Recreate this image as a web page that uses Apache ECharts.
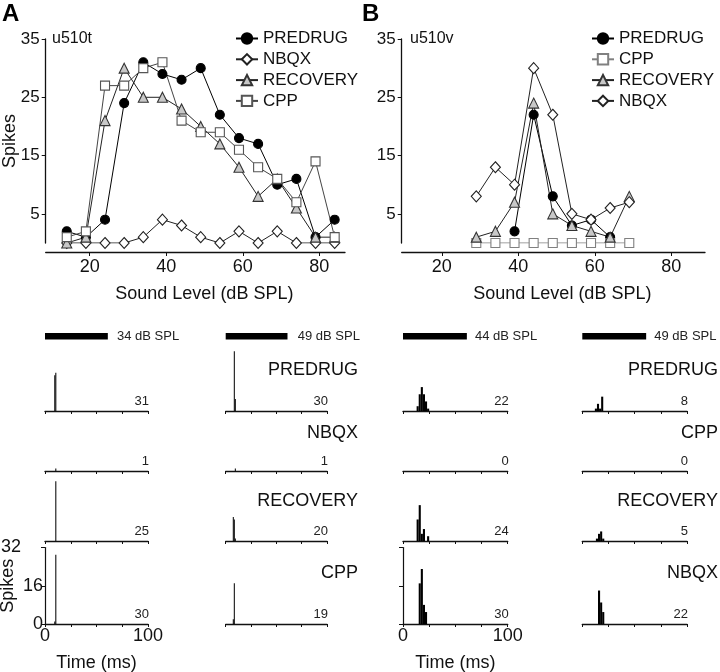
<!DOCTYPE html>
<html><head><meta charset="utf-8">
<script src="https://cdn.jsdelivr.net/npm/echarts@6/dist/echarts.min.js"></script>
<style>html,body{margin:0;padding:0;background:#fff}#c{width:720px;height:672px}</style>
</head><body><div id="c"></div>
<script>
// ---------- DATA ----------
const levelsA = [14,19,24,29,34,39,44,49,54,59,64,69,74,79,84];
const predrugA = [2,1,4,24,31,29,28,30,22,18,17,10,11,1,4];
const nbqxA = [0,0,0,0,1,4,3,1,0,2,0,2,0,0,0];
const recoveryA = [0,1,21,30,25,25,23,20,17,13,8,11,6,1,1];
const cppA = [1,2,27,27,30,31,21,19,19,16,13,11,7,14,1];

const levelsB = [29,34,39,44,49,54,59,64,69];
const predrugB = [null,null,2,22,8,3,4,1,null];
const cppB = [0,0,0,0,0,0,0,0,0];
const recoveryB = [1,2,7,24,5,3,2,1,8];
const nbqxB = [8,13,10,30,22,5,4,6,7];

const levelTicks = [20,40,60,80];
const spikeTicksTop = [5,15,25,35];

// PSTH bins: [bin start (ms), spikes]
const binWidthsMs = [1,1,2,2];
const psthA34Predrug = [[9,15],[10,16]];
const psthA34Nbqx = [[10,1]];
const psthA34Recovery = [[10,25]];
const psthA34Cpp = [[9,1],[10,29]];
const psthA49Predrug = [[8,25],[9,5]];
const psthA49Nbqx = [[9,1]];
const psthA49Recovery = [[7,10],[8,9],[9,1]];
const psthA49Cpp = [[7,2],[8,17]];
const psthB44Predrug = [[13,2],[15,7],[17,10],[19,7],[21,4],[23,1]];
const psthB44Cpp = [];
const psthB44Recovery = [[13,9],[15,15],[17,3],[19,5],[23,2]];
const psthB44Nbqx = [[15,17],[17,23],[19,8],[21,5]];
const psthB49Predrug = [[12,1],[14,3],[16,1],[18,6]];
const psthB49Cpp = [];
const psthB49Recovery = [[13,1],[15,3],[17,4],[19,1]];
const psthB49Nbqx = [[15,14],[17,9],[19,5]];

const stimulusMs = [0, 61];
const stimLabels = ['34 dB SPL','49 dB SPL','44 dB SPL','49 dB SPL'];
const countsA34 = [31,1,25,30];
const countsA49 = [30,1,20,19];
const countsB44 = [22,0,24,30];
const countsB49 = [8,0,5,22];
const rowLabelsA = ['PREDRUG','NBQX','RECOVERY','CPP'];
const rowLabelsB = ['PREDRUG','CPP','RECOVERY','NBQX'];

// ---------- LAYOUT ----------
const FONT = '"Liberation Sans", Arial, Helvetica, sans-serif';
const INK = '#111';
const grids = [], xAxes = [], yAxes = [], series = [], texts = [];

function txt(s, x, y, size, align, opts) {
  opts = opts || {};
  texts.push({type:'text', x:x, y:y, rotation:opts.rotation||0, silent:true, style:{
    text:String(s), fontSize:size, fontFamily:FONT, fontWeight:opts.bold?'bold':'normal',
    fill:opts.color||INK, align:align, textAlign:align, verticalAlign:'middle', textVerticalAlign:'middle'}});
}

function addGrid(g) {
  g.outerBoundsMode = 'none';
  g.containLabel = false;
  grids.push(g);
  return grids.length - 1;
}

function lineSeries(name, xs, ys, gi, sty) {
  series.push({
    name:name, type:'line', xAxisIndex:gi, yAxisIndex:gi,
    data: xs.map((x,i)=>[x, ys[i]]),
    symbol: sty.symbol, symbolSize: sty.size, showSymbol:true,
    lineStyle:{color:sty.line, width:1},
    itemStyle:{color:sty.fill, borderColor:sty.border, borderWidth:1.1},
    emphasis:{disabled:true}, animation:false
  });
}

function topChart(left, width, xmin, xmax, withName) {
  const gi = addGrid({left:left, top:39, width:width, height:204});
  xAxes.push({gridIndex:gi, type:'value', min:xmin, max:xmax, offset:9,
    axisLine:{show:true, onZero:false, lineStyle:{color:INK, width:1.3}},
    axisTick:{show:true, customValues:levelTicks, length:4, lineStyle:{color:INK}},
    axisLabel:{show:true, customValues:levelTicks, fontSize:18, color:INK, fontFamily:FONT, margin:6},
    splitLine:{show:false}, nameMoveOverlap:false,
    name:'Sound Level (dB SPL)', nameLocation:'middle', nameGap:33,
    nameTextStyle:{fontSize:18, color:INK, fontFamily:FONT, padding:[0,0,0,18]}});
  yAxes.push({gridIndex:gi, type:'value', min:0, max:35,
    axisLine:{show:true, lineStyle:{color:INK, width:1.3}},
    axisTick:{show:true, customValues:spikeTicksTop, length:4, lineStyle:{color:INK}},
    axisLabel:{show:true, customValues:spikeTicksTop, fontSize:17, color:INK, fontFamily:FONT, margin:6},
    splitLine:{show:false}, nameMoveOverlap:false,
    name: withName ? 'Spikes' : '', nameLocation:'middle', nameGap:27,
    nameTextStyle:{fontSize:18, color:INK, fontFamily:FONT}});
  return gi;
}

const gA = topChart(45.7, 299.3, 8.5, 86.7, true);
const gB = topChart(401.7, 303.3, 9.5, 88.8, false);

const stPRE = {symbol:'circle', size:9, fill:'#000', border:'#000', line:'#000'};
const stNBQX = {symbol:'diamond', size:[10,11], fill:'#fff', border:'#222', line:'#222'};
const stREC = {symbol:'triangle', size:[10,10], fill:'#c8c8c8', border:'#333', line:'#222'};
const stCPPA = {symbol:'rect', size:9, fill:'#fff', border:'#555', line:'#444'};
const stCPPB = {symbol:'rect', size:9, fill:'#fff', border:'#808080', line:'#808080'};

lineSeries('A:PREDRUG', levelsA, predrugA, gA, stPRE);
lineSeries('A:NBQX', levelsA, nbqxA, gA, stNBQX);
lineSeries('A:RECOVERY', levelsA, recoveryA, gA, stREC);
lineSeries('A:CPP', levelsA, cppA, gA, stCPPA);
lineSeries('B:PREDRUG', levelsB, predrugB, gB, stPRE);
lineSeries('B:CPP', levelsB, cppB, gB, stCPPB);
lineSeries('B:RECOVERY', levelsB, recoveryB, gB, stREC);
lineSeries('B:NBQX', levelsB, nbqxB, gB, stNBQX);

// PSTH panels
const colLeft = [45, 225.7, 403, 582.3];
const colWidth = [103, 101.3, 104.7, 104.7];
const rowBase = [411, 471, 541, 624];
const PH = 76.5;
const psthCols = [
  [psthA34Predrug, psthA34Nbqx, psthA34Recovery, psthA34Cpp],
  [psthA49Predrug, psthA49Nbqx, psthA49Recovery, psthA49Cpp],
  [psthB44Predrug, psthB44Cpp, psthB44Recovery, psthB44Nbqx],
  [psthB49Predrug, psthB49Cpp, psthB49Recovery, psthB49Nbqx]
];
const countCols = [countsA34, countsA49, countsB44, countsB49];

function rectItem(params, api) {
  const a = api.coord([api.value(0), api.value(1)]);
  const b = api.coord([api.value(0) + api.value(2), 0]);
  return {type:'rect', shape:{x:a[0], y:a[1], width:b[0]-a[0], height:b[1]-a[1]}, style:{fill:'#000'}};
}

for (let c = 0; c < 4; c++) {
  // stimulus bar
  let gi = addGrid({left:colLeft[c], top:333, width:colWidth[c], height:6.5});
  xAxes.push({gridIndex:gi, type:'value', min:0, max:100, show:false});
  yAxes.push({gridIndex:gi, type:'value', min:0, max:1, show:false});
  series.push({type:'custom', xAxisIndex:gi, yAxisIndex:gi, silent:true, animation:false,
    data:[[stimulusMs[0], 1, stimulusMs[1]-stimulusMs[0]]], encode:{x:0, y:1}, renderItem:rectItem});
  txt(stimLabels[c], colLeft[c] + 72, 336, 13, 'left', {color:'#222'});

  for (let r = 0; r < 4; r++) {
    const bottomRow = (r === 3);
    const labelled = bottomRow && (c === 0 || c === 2);
    gi = addGrid({left:colLeft[c], top:rowBase[r]-PH, width:colWidth[c], height:PH});
    xAxes.push({gridIndex:gi, type:'value', min:0, max:100, interval:25,
      axisLine:{show:true, onZero:false, lineStyle:{color:INK, width:1.4}},
      axisTick:{show:true, length:3, lineStyle:{color:INK}},
      axisLabel:{show:labelled, fontSize:18, color:INK, fontFamily:FONT, margin:3,
        formatter: v => (v === 0 || v === 100) ? String(v) : ''},
      splitLine:{show:false}, nameMoveOverlap:false,
      name: labelled ? 'Time (ms)' : '', nameLocation:'middle', nameGap:30,
      nameTextStyle:{fontSize:18, color:INK, fontFamily:FONT}});
    yAxes.push({gridIndex:gi, type:'value', min:0, max:32, interval:16,
      show: labelled,
      axisLine:{show:true, lineStyle:{color:INK, width:1.2}},
      axisTick:{show:true, length:4, lineStyle:{color:INK}},
      axisLabel:{show:(c === 0), fontSize:18, color:INK, fontFamily:FONT, margin:2,
        formatter: v => v === 32 ? '{f|32}' : String(v),
        rich:{f:{fontSize:18, color:INK, fontFamily:FONT, padding:[0,22,0,0]}}},
      splitLine:{show:false}, nameMoveOverlap:false,
      name: (labelled && c === 0) ? 'Spikes' : '', nameLocation:'middle', nameGap:28,
      nameTextStyle:{fontSize:18, color:INK, fontFamily:FONT}});
    const bw = binWidthsMs[c];
    series.push({type:'custom', xAxisIndex:gi, yAxisIndex:gi, silent:true, animation:false,
      data: psthCols[c][r].map(d => [d[0], d[1], bw]), encode:{x:0, y:1}, renderItem:rectItem});
    txt(countCols[c][r], colLeft[c] + colWidth[c] + 1, rowBase[r] - 10, 13, 'right', {color:'#222'});
  }
}

// row labels
const rowLabelY = [370, 433, 501, 573];
for (let r = 0; r < 4; r++) {
  txt(rowLabelsA[r], 358, rowLabelY[r], 18, 'right');
  txt(rowLabelsB[r], 718, rowLabelY[r], 18, 'right');
}
txt('A', 2, 14, 24, 'left', {bold:true, color:'#000'});
txt('B', 362, 14, 24, 'left', {bold:true, color:'#000'});
txt('u510t', 52, 39, 16, 'left');
txt('u510v', 410, 39, 16, 'left');

function legend(left, names) {
  return {left:left, top:30, orient:'vertical', padding:0, itemGap:3.8,
    itemWidth:22, itemHeight:13, selectedMode:false, data:names,
    formatter: n => n.slice(2),
    textStyle:{fontSize:17, lineHeight:17, color:INK, fontFamily:FONT}};
}

const chart = echarts.init(document.getElementById('c'), null, {renderer:'canvas'});
chart.setOption({
  animation:false,
  backgroundColor:'#fff',
  legend:[
    legend(235, ['A:PREDRUG','A:NBQX','A:RECOVERY','A:CPP']),
    legend(591, ['B:PREDRUG','B:CPP','B:RECOVERY','B:NBQX'])
  ],
  grid:grids, xAxis:xAxes, yAxis:yAxes, series:series,
  graphic:{elements:texts}
});
</script>
</body></html>
